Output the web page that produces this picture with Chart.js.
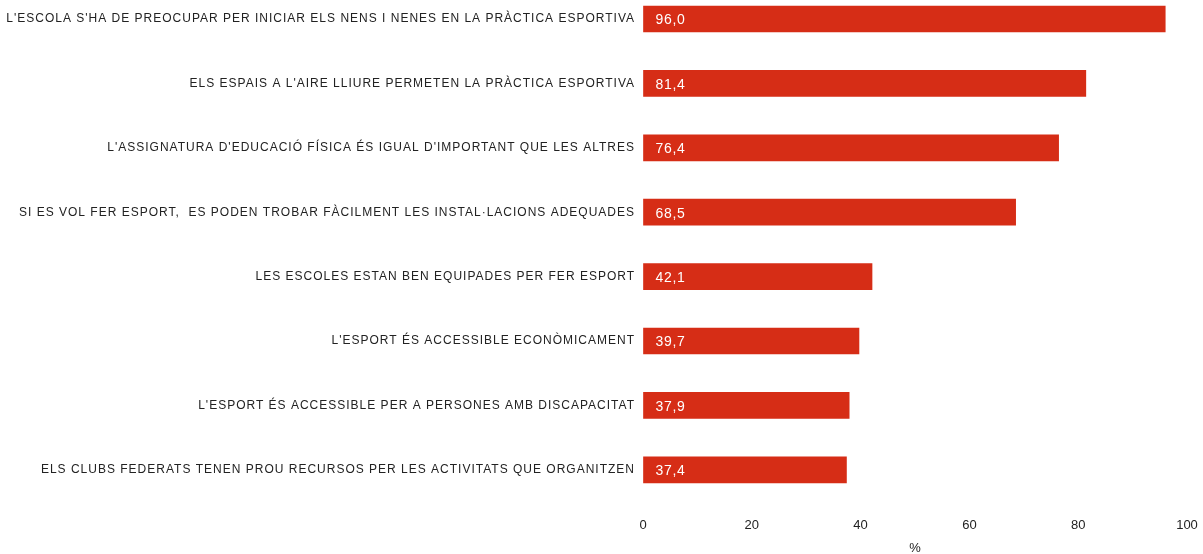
<!DOCTYPE html>
<html>
<head>
<meta charset="utf-8">
<script src="https://cdn.jsdelivr.net/npm/chart.js@4"></script>
<style>
  html, body { margin: 0; padding: 0; background: #fff; }
  #wrap { width: 1203px; height: 554px; }
</style>
</head>
<body>
<div id="wrap"><canvas id="myChart" width="1203" height="554"></canvas></div>
<script>
let categories = [
  "L'ESCOLA S'HA DE PREOCUPAR PER INICIAR ELS NENS I NENES EN LA PRÀCTICA ESPORTIVA",
  "ELS ESPAIS A L'AIRE LLIURE PERMETEN LA PRÀCTICA ESPORTIVA",
  "L'ASSIGNATURA D'EDUCACIÓ FÍSICA ÉS IGUAL D'IMPORTANT QUE LES ALTRES",
  "SI ES VOL FER ESPORT,  ES PODEN TROBAR FÀCILMENT LES INSTAL·LACIONS ADEQUADES",
  "LES ESCOLES ESTAN BEN EQUIPADES PER FER ESPORT",
  "L'ESPORT ÉS ACCESSIBLE ECONÒMICAMENT",
  "L'ESPORT ÉS ACCESSIBLE PER A PERSONES AMB DISCAPACITAT",
  "ELS CLUBS FEDERATS TENEN PROU RECURSOS PER LES ACTIVITATS QUE ORGANITZEN"
];
let values = [96.0, 81.4, 76.4, 68.5, 42.1, 39.7, 37.9, 37.4];
let xTicks = [0, 20, 40, 60, 80, 100];

// white value labels at the start of each bar, then widen spacing for the y labels (drawn after, z:1)
let valueLabels = {
  id: 'valueLabels',
  afterDatasetsDraw(chart) {
    let ctx = chart.ctx;
    let meta = chart.getDatasetMeta(0);
    ctx.save();
    ctx.font = '14px "Liberation Sans", Arial, sans-serif';
    ctx.letterSpacing = '0.7px';
    ctx.fillStyle = '#fff';
    ctx.textBaseline = 'middle';
    meta.data.forEach((bar, i) => {
      ctx.fillText(values[i].toFixed(1).replace('.', ','), bar.base + 12, bar.y + 1.5);
    });
    ctx.restore();
    ctx.letterSpacing = '1px';
  },
  afterDraw(chart) {
    chart.ctx.letterSpacing = '0px';
  }
};

let ctx = document.getElementById('myChart').getContext('2d');
let chart = new Chart(ctx, {
  type: 'bar',
  data: {
    labels: categories,
    datasets: [{
      data: values,
      backgroundColor: 'rgb(214,45,22)',
      barThickness: 26,
      clip: false
    }]
  },
  options: {
    indexAxis: 'y',
    responsive: false,
    animation: false,
    layout: { padding: { top: 19, right: 16, bottom: -2, left: 0 } },
    plugins: { legend: { display: false }, tooltip: { enabled: false } },
    scales: {
      x: {
        min: 0, max: 100,
        afterBuildTicks: s => { s.ticks = xTicks.map(v => ({ value: v })); },
        grid: { display: true, color: 'transparent', drawOnChartArea: false, drawTicks: true, tickLength: 45 },
        border: { display: false },
        ticks: { color: '#222', font: { size: 13, family: '"Liberation Sans", Arial' }, padding: 3 },
        title: { display: true, text: '%', color: '#222', font: { size: 13, family: '"Liberation Sans", Arial' }, padding: { top: 4, bottom: 0 } }
      },
      y: {
        offset: false,
        afterFit: s => { s.width = 643; },
        grid: { display: false, drawTicks: false },
        border: { display: false },
        ticks: { z: 1, color: '#222', font: { size: 12, family: '"Liberation Sans", Arial' }, padding: 8 }
      }
    }
  },
  plugins: [valueLabels]
});
</script>
</body>
</html>
